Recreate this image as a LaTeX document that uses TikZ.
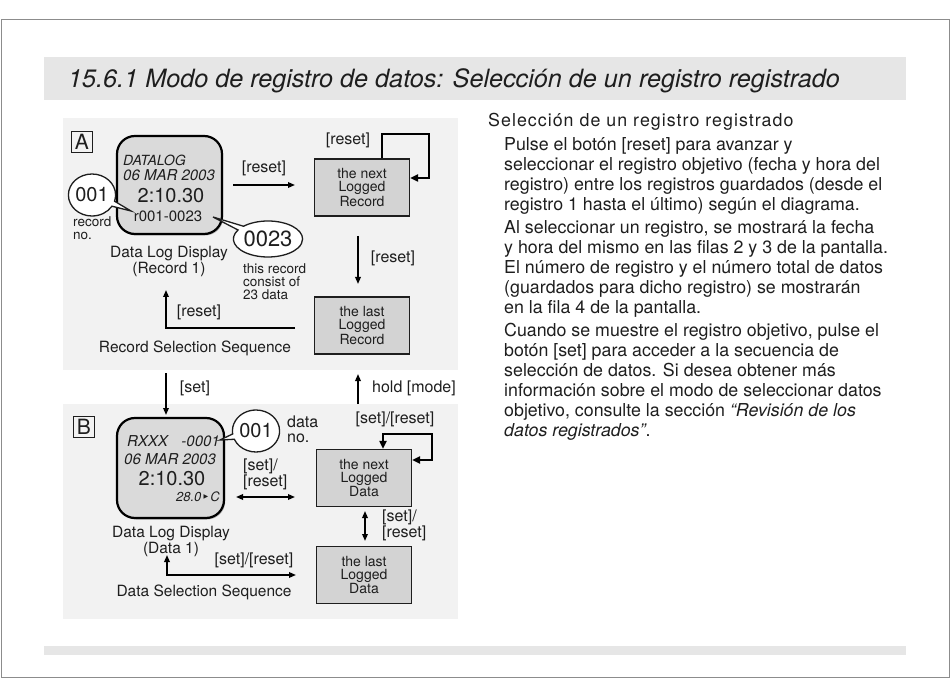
\documentclass[tikz,border=0pt]{standalone}
\usepackage{fontspec}
\setmainfont{TeX Gyre Heros}
\newfontfamily\symbfont{DejaVu Sans}
\newfontfamily\widefnt[LetterSpace=5.8]{TeX Gyre Heros}
\usetikzlibrary{arrows.meta,shapes.callouts,shadows}

\definecolor{panel}{HTML}{F2F2F2}
\definecolor{bar}{HTML}{E6E6E6}
\definecolor{boxgray}{HTML}{D3D3D3}
\definecolor{lcdgray}{HTML}{DADADA}
\definecolor{ink}{HTML}{1E1E1E}

\newcommand{\textfnt}{\fontsize{17.8}{20.15}\selectfont}
\newcommand{\lblfnt}{\fontsize{16}{15}\selectfont}

\tikzset{
	arr/.style={line width=1.6pt, -{Triangle[length=7pt,width=5.5pt]}},
	darr/.style={line width=1.6pt, {Triangle[length=7pt,width=5.5pt]}-{Triangle[length=7pt,width=5.5pt]}},
	loopln/.style={line width=2.6pt},
	logbox/.style={draw=ink, line width=1.3pt, fill=boxgray, minimum width=95pt, minimum height=57pt,
		align=center, inner sep=0pt, font=\fontsize{14}{13}\selectfont},
	lcd/.style={draw=black, line width=2.2pt, fill=lcdgray, rounded corners=18pt,
		minimum width=105pt, minimum height=98pt,
		drop shadow={shadow xshift=1.2pt, shadow yshift=-1.5pt, fill=black!55}},
	bubble/.style={ellipse callout, draw=ink, line width=1.3pt, fill=white, inner sep=0pt,
		font=\fontsize{20}{20}\selectfont},
	tag/.style={draw=ink, line width=1pt, minimum width=21pt, minimum height=21pt, inner sep=0pt,
		font=\fontsize{21}{21}\selectfont},
	lbl/.style={inner sep=0pt, font=\lblfnt, align=left},
	small/.style={inner sep=0pt, font=\fontsize{13.5}{13}\selectfont, align=left},
}

\begin{document}
\begin{tikzpicture}[x=1pt, y=-1pt, every node/.style={text=ink}]
	\useasboundingbox (0,0) rectangle (950,700);
	%Cadre, bandeaux et fonds
	\draw[black!45, line width=1pt] (1,20) rectangle (949,677);
	\fill[bar] (44,57) rectangle (906,100);
	\fill[bar] (44,646) rectangle (906,655);
	\fill[panel] (63,118) rectangle (458,370);
	\fill[panel] (63,404) rectangle (458,619);
	\node[anchor=base west, inner sep=0pt, font=\fontsize{25.2}{28}\selectfont\itshape] (titre) at (68,88)
		{15.6.1 Modo de registro de datos: Selección de un registro registrado};
	
	%Texte de droite
	\node[anchor=base west, inner sep=0pt, font=\widefnt\textfnt] (enc) at (488,127) {Selección de un registro registrado};
	\node[anchor=north west, inner sep=0pt, font=\textfnt, align=left] (texto) at (504,137) {%
		Pulse el botón [reset] para avanzar y\\
		seleccionar el registro objetivo (fecha y hora del\\
		registro) entre los registros guardados (desde el\\
		registro 1 hasta el último) según el diagrama.\\[2.3pt]
		Al seleccionar un registro, se mostrará la fecha\\
		y hora del mismo en las filas 2 y 3 de la pantalla.\\
		El número de registro y el número total de datos\\
		(guardados para dicho registro) se mostrarán\\
		en la fila 4 de la pantalla.\\[2.3pt]
		Cuando se muestre el registro objetivo, pulse el\\
		botón [set] para acceder a la secuencia de\\
		selección de datos. Si desea obtener más\\
		información sobre el modo de seleccionar datos\\
		objetivo, consulte la sección \textit{“Revisión de los}\\
		\textit{datos registrados”}.};
	
	%Panneau A : sélection d'un enregistrement
	\node[tag] (A) at (82,142) {A};
	\node[lcd] (lcdA) at (169.5,185) {};
	\node[anchor=west, inner sep=0pt, font=\fontsize{14}{14}\selectfont\itshape] (lA1) at (123,160) {DATALOG};
	\node[anchor=west, inner sep=0pt, font=\fontsize{15}{15}\selectfont\itshape] (lA2) at (123,175) {06 MAR 2003};
	\node[inner sep=0pt, font=\fontsize{20}{20}\selectfont] (lA3) at (171,196) {2:10.30};
	\node[inner sep=0pt, font=\fontsize{15}{15}\selectfont] (lA4) at (168,216) {r001-0023};
	\coordinate (pRec) at (131,211);
	\coordinate (pTot) at (213,217);
	\node[bubble, minimum width=44pt, minimum height=42pt, callout absolute pointer={(pRec)}] (recno) at (92,195) {001};
	\node[bubble, minimum width=60pt, minimum height=36pt, callout absolute pointer={(pTot)},
		font=\fontsize{22}{22}\selectfont] (total) at (268,239) {0023};
	\node[small, anchor=north west] (recnolbl) at (73,216) {record\\no.};
	\node[small, anchor=north west] (totlbl) at (243,263) {this record\\consist of\\23 data};
	\node[inner sep=0pt, align=center, font=\fontsize{15.5}{16}\selectfont] (dispA) at (169,261) {Data Log Display\\(Record 1)};
	\node[inner sep=0pt, font=\fontsize{15.5}{16}\selectfont] (seqA) at (195,348) {Record Selection Sequence};
	
	\node[logbox] (nextR) at (362,187.5) {the next\\Logged\\Record};
	\node[logbox] (lastR) at (362,325.5) {the last\\Logged\\Record};
	
	\coordinate (a1) at (233,185);
	\coordinate (a2) at (295,185);
	\draw[arr] (a1) -- (a2);
	\node[lbl] (r1) at (264,168) {[reset]};
	\coordinate (lpR) at (429,134);
	\draw[loopln, -{Triangle[length=8pt,width=7pt]}] (nextR.north -| 382,0) |- (lpR) |- (nextR.east |- 0,178);
	\node[lbl] (r2) at (348,140) {[reset]};
	\coordinate (d1) at (358,236);
	\coordinate (d2) at (358,284);
	\draw[arr] (d1) -- (d2);
	\node[lbl] (r3) at (393,258) {[reset]};
	\coordinate (b1) at (295,328);
	\coordinate (b2) at (166,290);
	\draw[arr] (b1) -| (b2);
	\node[lbl] (r4) at (199,312) {[reset]};
	
	%Passage entre les deux séquences
	\coordinate (s1) at (166,373);
	\coordinate (s2) at (166,415);
	\draw[arr] (s1) -- (s2);
	\node[lbl] (set1) at (195,388) {[set]};
	\coordinate (m1) at (358,404);
	\coordinate (m2) at (358,374);
	\draw[arr] (m1) -- (m2);
	\node[lbl] (mode) at (414,388) {hold [mode]};
	
	%Panneau B : sélection des données
	\node[tag] (B) at (84,427) {B};
	\node[lcd, minimum width=107pt, minimum height=100pt] (lcdB) at (170.5,468) {};
	\node[anchor=east, inner sep=0pt, font=\fontsize{15}{15}\selectfont\itshape] (lB1) at (220,441) {RXXX\hspace{0.9em}-0001};
	\node[anchor=west, inner sep=0pt, font=\fontsize{15}{15}\selectfont\itshape] (lB2) at (124,459) {06 MAR 2003};
	\node[inner sep=0pt, font=\fontsize{20}{20}\selectfont] (lB3) at (172,479) {2:10.30};
	\node[anchor=east, inner sep=0pt, font=\fontsize{13}{13}\selectfont\itshape] (lB4) at (220,497)
		{28.0\,\raisebox{3pt}{\symbfont\fontsize{6}{6}\selectfont ▶}\,C};
	\coordinate (pDat) at (220,440);
	\node[bubble, minimum width=42pt, minimum height=42pt, callout absolute pointer={(pDat)}] (datno) at (256,431) {001};
	\node[lbl, anchor=north west] (datlbl) at (287,416) {data\\no.};
	\node[lbl, anchor=north west] (sr1) at (243,459) {[set]/\\{}[reset]};
	\coordinate (h1) at (236,497);
	\coordinate (h2) at (295,497);
	\draw[darr] (h1) -- (h2);
	\node[inner sep=0pt, align=center, font=\fontsize{15.5}{16}\selectfont] (dispB) at (171,541) {Data Log Display\\(Data 1)};
	\node[inner sep=0pt, font=\fontsize{15.5}{16}\selectfont] (seqB) at (204,592) {Data Selection Sequence};
	
	\node[logbox] (nextD) at (364,478) {the next\\Logged\\Data};
	\node[logbox] (lastD) at (364,575) {the last\\Logged\\Data};
	
	\coordinate (lpD) at (432,434);
	\draw[loopln, {Triangle[length=8pt,width=7pt]}-{Triangle[length=8pt,width=7pt]}] (nextD.north -| 383,0) |- (lpD) |- (nextD.east |- 0,460);
	\node[lbl] (sr2) at (395,419) {[set]/[reset]};
	\coordinate (v1) at (365,511);
	\coordinate (v2) at (365,541);
	\draw[darr] (v1) -- (v2);
	\node[lbl, anchor=north west] (sr3) at (382,510) {[set]/\\{}[reset]};
	\coordinate (c1) at (167,555);
	\coordinate (c2) at (296,575);
	\draw[darr] (c1) |- (c2);
	\node[lbl] (sr4) at (254,560) {[set]/[reset]};
\end{tikzpicture}
\end{document}
